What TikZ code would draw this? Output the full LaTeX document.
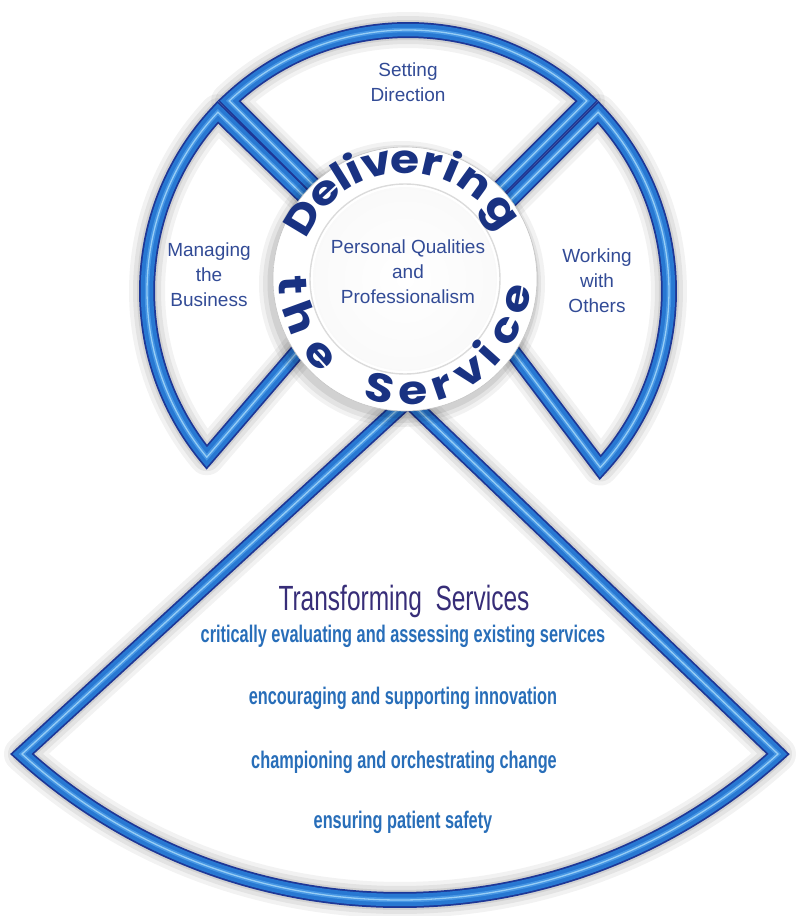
\documentclass[tikz,border=0pt]{standalone}
\usepackage{fontspec}
\setmainfont{Liberation Sans}
\newfontfamily\ringfont{Poppins}
\usetikzlibrary{calc}

\definecolor{tubedark}{RGB}{30,55,150}
\definecolor{tubemid}{RGB}{40,120,210}
\definecolor{tubelite}{RGB}{70,150,228}
\definecolor{tubehi}{RGB}{150,205,245}
\definecolor{labelblue}{RGB}{50,75,150}
\definecolor{ringnavy}{RGB}{25,50,130}
\definecolor{titlepurple}{RGB}{55,45,120}
\definecolor{itemblue}{RGB}{40,110,185}

% soft grey rims for the central ring and its lens
\pgfdeclareradialshading{lensshade}{\pgfpoint{0bp}{0bp}}{color(0bp)=(white); color(24bp)=(white!96!gray); color(36bp)=(white!88!gray); color(45bp)=(white!72!gray); color(50bp)=(white!58!gray)}
\pgfdeclareradialshading{bandshade}{\pgfpoint{0bp}{0bp}}{color(0bp)=(white); color(40bp)=(white); color(46bp)=(white!94!gray); color(50bp)=(white!75!gray)}

% soft drop shadow cast by a frame
\newcommand\dropshadow[1]{%
  \draw[shift={(4,-5)}, line join=round, draw=black, opacity=0.05, line width=36pt] #1;
  \draw[shift={(4,-5)}, line join=round, draw=black, opacity=0.06, line width=28pt] #1;
  \draw[shift={(4,-5)}, line join=round, draw=black, opacity=0.08, line width=20pt] #1;
}
% blue tube frame drawn in layers
\newcommand\drawtube[1]{%
  \draw[line join=miter, draw=tubedark, line width=16pt] #1;
  \draw[line join=miter, draw=tubemid, line width=12.5pt] #1;
  \draw[line join=miter, draw=tubelite, line width=4.5pt] #1;
  \draw[line join=miter, draw=tubehi, line width=1.3pt, shift={(-1.5,1.5)}] #1;
}

\begin{document}
\begin{tikzpicture}[x=1pt,y=1pt,
  lbl/.style={text=labelblue, font=\fontsize{19}{25}\selectfont, align=center, inner sep=0pt},
  ringletter/.style={text=ringnavy, font=\ringfont\bfseries\fontsize{40}{40}\selectfont, inner sep=0pt, anchor=base, xscale=1.18},
  titletext/.style={text=titlepurple, font=\fontsize{35}{35}\selectfont, inner sep=0pt, anchor=base, xscale=0.7},
  itemtext/.style={text=itemblue, font=\bfseries\fontsize{24}{24}\selectfont, inner sep=0pt, anchor=base, xscale=0.68}]

\useasboundingbox (0,0) rectangle (796,-916);
\fill[white] (0,0) rectangle (796,-916);

% centres of the wheel and of the ring
\coordinate (C) at (408,-291);
\coordinate (Q) at (405,-279);

% corner points of the four segments
\coordinate (apexT) at (408,-279.7);
\coordinate (T1) at ($(C)+(46.76:261)$);
\coordinate (apexL) at (373.3,-263.6);
\coordinate (L1) at ($(C)+(136.76:261)$);
\coordinate (apexR) at (446.5,-263.9);
\coordinate (R1) at ($(C)+(43.24:261)$);
\coordinate (apexB) at (408,-400);
\coordinate (BL) at (22,-754);

% shadows first
\dropshadow{(apexB) -- (BL) arc[start angle=227.76, end angle=312.24, radius=562.3] -- cycle}
\dropshadow{(apexL) -- (L1) arc[start angle=136.76, end angle=219.55, radius=261] -- cycle}
\dropshadow{(apexR) -- (R1) arc[start angle=43.24, end angle=-42.55, radius=261] -- cycle}
\dropshadow{(apexT) -- (T1) arc[start angle=46.76, end angle=133.24, radius=261] -- cycle}

% the four framed segments
\drawtube{(apexB) -- (BL) arc[start angle=227.76, end angle=312.24, radius=562.3] -- cycle}
\drawtube{(apexL) -- (L1) arc[start angle=136.76, end angle=219.55, radius=261] -- cycle}
\drawtube{(apexR) -- (R1) arc[start angle=43.24, end angle=-42.55, radius=261] -- cycle}
\drawtube{(apexT) -- (T1) arc[start angle=46.76, end angle=133.24, radius=261] -- cycle}

% central ring with its shadow
\fill[black, opacity=0.05] ($(Q)+(-3,-5)$) circle (143);
\fill[black, opacity=0.06] ($(Q)+(-3,-5)$) circle (139);
\fill[black, opacity=0.08] ($(Q)+(-2,-4)$) circle (135.5);
\shade[shading=bandshade] (Q) circle (132);
\draw[gray!45, line width=0.6pt] (Q) circle (132);
\draw[gray!28, line width=1.4pt] (Q) circle (95);
\shade[shading=lensshade] (Q) circle (92);
\draw[white, line width=1.6pt] (Q) circle (93);

% ring lettering
\foreach \ch/\ang [count=\k] in {D/149,e/133,l/122,i/115,v/104,e/90,r/77,i/67,n/54,g/35}
  \node[rotate=\ang-90, ringletter, name=del\k] at ($(Q)+(\ang:106)$) {\ch};
\foreach \ch/\ang [count=\k] in {t/183,h/200,e/222,S/257,e/274,r/289,v/305,i/318,c/333,e/350}
  \node[rotate=\ang+90, ringletter, name=srv\k] at ($(Q)+(\ang:126)$) {\ch};

% segment labels
\node[lbl] (setdir) at (408,-82) {Setting\\Direction};
\node[lbl] (manage) at (209,-275) {Managing\\the\\Business};
\node[lbl] (others) at (597,-281) {Working\\with\\Others};
\node[lbl] (personal) at (408,-272) {Personal Qualities\\and\\Professionalism};

% lower segment text
\node[titletext] (transform) at (404,-610) {Transforming\ \ Services};
\node[itemtext] (item1) at (403,-642) {critically evaluating and assessing existing services};
\node[itemtext] (item2) at (403,-704) {encouraging and supporting innovation};
\node[itemtext] (item3) at (404,-768) {championing and orchestrating change};
\node[itemtext] (item4) at (403,-828) {ensuring patient safety};
\end{tikzpicture}
\end{document}
